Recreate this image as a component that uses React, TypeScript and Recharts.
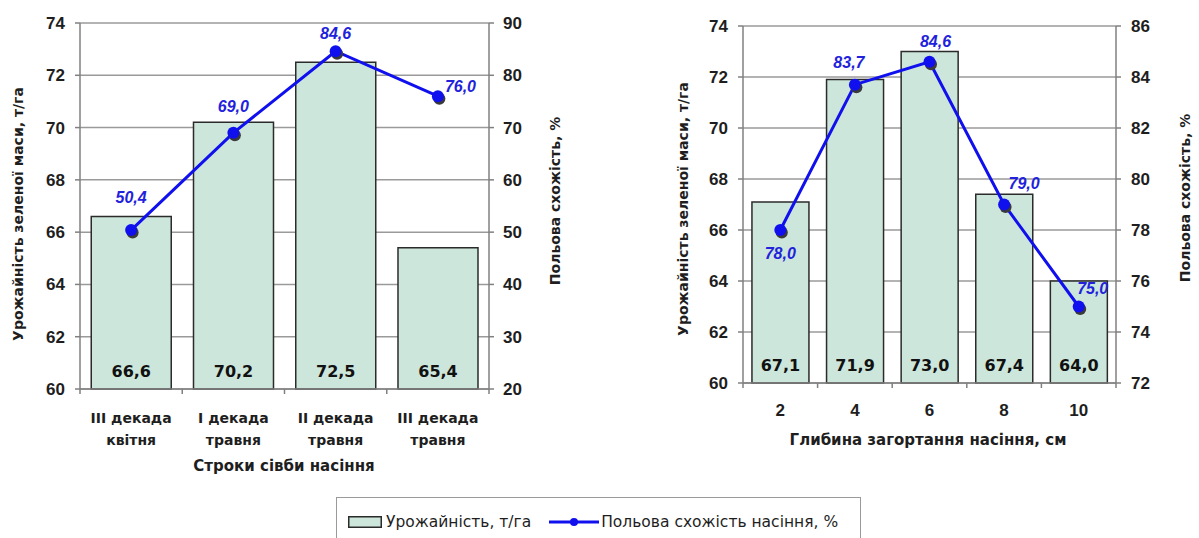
import { ComposedChart, Bar, Line, XAxis, YAxis, CartesianGrid, LabelList, Label } from 'recharts';

const sowingTerms = ['III декада\nквітня', 'I декада\nтравня', 'II декада\nтравня', 'III декада\nтравня'];
const sowingYield = [66.6, 70.2, 72.5, 65.4];
const sowingGermination = [50.4, 69.0, 84.6, 76.0];

const depths = ['2', '4', '6', '8', '10'];
const depthYield = [67.1, 71.9, 73.0, 67.4, 64.0];
const depthGermination = [78.0, 83.7, 84.6, 79.0, 75.0];

const yieldTicks = [60, 62, 64, 66, 68, 70, 72, 74];
const sowingGermTicks = [20, 30, 40, 50, 60, 70, 80, 90];
const depthGermTicks = [72, 74, 76, 78, 80, 82, 84, 86];

const FONT = '"Liberation Sans", Arial, sans-serif';
const WIDE = '"DejaVu Sans", Verdana, sans-serif';
const BAR_FILL = '#cde6db';
const BAR_STROKE = '#2b2b2b';
const LINE_COLOR = '#1010ee';
const LABEL_BLUE = '#2222dc';
const GRID = '#9a9a9a';
const AXIS = '#808080';
const TEXT = '#1e1e1e';

const fmt = (v: number) => v.toFixed(1).replace('.', ',');

const sowingData = sowingTerms.map((name, i) => ({
  name,
  yield: sowingYield[i],
  germ: sowingGermination[i],
}));
const depthData = depths.map((name, i) => ({
  name,
  yield: depthYield[i],
  germ: depthGermination[i],
}));

// label nudges for the line values (text baseline relative to the dot)
const sowingLabelNudge = [
  { dx: 0, dy: -27, anchor: 'middle' },
  { dx: 0, dy: -21, anchor: 'middle' },
  { dx: 0, dy: -12, anchor: 'middle' },
  { dx: 7, dy: -4, anchor: 'start' },
];
const depthLabelNudge = [
  { dx: 0, dy: 29, anchor: 'middle' },
  { dx: -6, dy: -17, anchor: 'middle' },
  { dx: 6, dy: -15, anchor: 'middle' },
  { dx: 20, dy: -16, anchor: 'middle' },
  { dx: 14, dy: -13, anchor: 'middle' },
];

function ShadowDot(props: any) {
  const { cx, cy } = props;
  if (cx == null || cy == null) return null;
  return (
    <g>
      <circle cx={cx + 1.5} cy={cy + 2.5} r={6} fill="#3a3a3a" />
      <circle cx={cx} cy={cy} r={6} fill={LINE_COLOR} />
    </g>
  );
}

function lineLabel(nudge: { dx: number; dy: number; anchor: string }[]) {
  return (props: any) => {
    const { x, y, value, index } = props;
    const n = nudge[index] || { dx: 0, dy: -12, anchor: 'middle' };
    return (
      <text
        x={x + n.dx}
        y={y + n.dy}
        textAnchor={n.anchor}
        fill={LABEL_BLUE}
        fontSize={16}
        fontWeight="bold"
        fontStyle="italic"
        fontFamily={FONT}
      >
        {fmt(Number(value))}
      </text>
    );
  };
}

function CategoryTick(props: any) {
  const { x, y, payload, index, band, count, firstDy, lineGap, fontSize, family } = props;
  const lines = String(payload.value).split('\n');
  return (
    <g>
      <line x1={x - band / 2} y1={y} x2={x - band / 2} y2={y + 5} stroke={AXIS} strokeWidth={1.5} />
      {index === count - 1 && (
        <line x1={x + band / 2} y1={y} x2={x + band / 2} y2={y + 5} stroke={AXIS} strokeWidth={1.5} />
      )}
      <text x={x} y={y + firstDy} textAnchor="middle" fill={TEXT} fontSize={fontSize} fontWeight="bold" fontFamily={family}>
        {lines.map((l, i) => (
          <tspan key={i} x={x} dy={i === 0 ? 0 : lineGap}>
            {l}
          </tspan>
        ))}
      </text>
    </g>
  );
}

function vTitle(text: string, x: number, y: number) {
  return () => (
    <text
      x={x}
      y={y}
      transform={`rotate(-90 ${x} ${y})`}
      textAnchor="middle"
      dominantBaseline="central"
      fill={TEXT}
      fontSize={14}
      fontWeight="bold"
      fontFamily={WIDE}
    >
      {text}
    </text>
  );
}

function hTitle(text: string, x: number, y: number) {
  return () => (
    <text x={x} y={y} textAnchor="middle" dominantBaseline="central" fill={TEXT} fontSize={15} fontWeight="bold" fontFamily={WIDE}>
      {text}
    </text>
  );
}

const tickStyle = { fontSize: 17, fontWeight: 'bold', fill: TEXT, fontFamily: FONT };
const barLabelStyle = { fontSize: 16, fontWeight: 'bold', fill: '#111', fontFamily: WIDE };

function Legend() {
  return (
    <div
      style={{
        position: 'absolute',
        left: 336,
        top: 497,
        width: 525,
        height: 50,
        border: '1px solid #9a9a9a',
        boxSizing: 'border-box',
        fontFamily: WIDE,
        fontSize: 15.5,
        color: TEXT,
      }}
    >
      <div style={{ display: 'flex', alignItems: 'center', height: 50, paddingLeft: 11, boxSizing: 'border-box', paddingBottom: 2 }}>
        <svg width={34} height={12} style={{ display: 'block' }}>
          <rect x={0.75} y={0.75} width={32.5} height={10.5} fill={BAR_FILL} stroke={BAR_STROKE} strokeWidth={1.5} />
        </svg>
        <span style={{ marginLeft: 4 }}>Урожайність, т/га</span>
        <svg width={50} height={12} style={{ display: 'block', marginLeft: 18 }}>
          <line x1={0} y1={6} x2={50} y2={6} stroke={LINE_COLOR} strokeWidth={3} />
          <circle cx={25} cy={6} r={4} fill={LINE_COLOR} />
        </svg>
        <span style={{ marginLeft: 2 }}>Польова схожість насіння, %</span>
      </div>
    </div>
  );
}

export default function App() {
  return (
    <div style={{ position: 'absolute', left: 0, top: 0, width: 1199, height: 538, background: '#fff', overflow: 'hidden' }}>
      <div style={{ position: 'absolute', left: 0, top: 0 }}>
        <ComposedChart width={600} height={490} data={sowingData} margin={{ top: 23, right: 61, left: 20, bottom: 31 }} barCategoryGap="11%">
          <CartesianGrid yAxisId="left" horizontal vertical={false} stroke={GRID} strokeWidth={1.5} />
          <XAxis
            dataKey="name"
            height={70}
            interval={0}
            tickSize={0}
            tickMargin={0}
            tickLine={false}
            axisLine={{ stroke: AXIS, strokeWidth: 1.5 }}
            tick={<CategoryTick band={102.25} count={sowingTerms.length} firstDy={34} lineGap={22} fontSize={14} family={WIDE} />}
          >
            <Label content={hTitle('Строки сівби насіння', 284, 466)} />
          </XAxis>
          <YAxis
            yAxisId="left"
            domain={[60, 74]}
            ticks={yieldTicks}
            interval={0}
            width={60}
            tickSize={5}
            tickMargin={10}
            axisLine={{ stroke: AXIS, strokeWidth: 1.5 }}
            tickLine={{ stroke: AXIS, strokeWidth: 1.5 }}
            tick={tickStyle}
          >
            <Label content={vTitle('Урожайність зеленої маси, т/га', 18, 214)} />
          </YAxis>
          <YAxis
            yAxisId="right"
            orientation="right"
            domain={[20, 90]}
            ticks={sowingGermTicks}
            interval={0}
            width={50}
            tickSize={5}
            tickMargin={9}
            axisLine={{ stroke: AXIS, strokeWidth: 1.5 }}
            tickLine={{ stroke: AXIS, strokeWidth: 1.5 }}
            tick={{ ...tickStyle, textAnchor: 'start' }}
          >
            <Label content={vTitle('Польова схожість, %', 555, 201)} />
          </YAxis>
          <Bar yAxisId="left" dataKey="yield" fill={BAR_FILL} stroke={BAR_STROKE} strokeWidth={1.5} isAnimationActive={false}>
            <LabelList
              dataKey="yield"
              position="insideBottom"
              offset={12}
              formatter={(v: any) => fmt(Number(v))}
              style={barLabelStyle}
            />
          </Bar>
          <Line
            yAxisId="right"
            dataKey="germ"
            stroke={LINE_COLOR}
            strokeWidth={3}
            dot={<ShadowDot />}
            activeDot={false}
            isAnimationActive={false}
          >
            <LabelList dataKey="germ" content={lineLabel(sowingLabelNudge)} />
          </Line>
        </ComposedChart>
      </div>

      <div style={{ position: 'absolute', left: 620, top: 0 }}>
        <ComposedChart width={579} height={490} data={depthData} margin={{ top: 26, right: 33, left: 63, bottom: 37 }} barCategoryGap="12%">
          <CartesianGrid yAxisId="left" horizontal vertical={false} stroke={GRID} strokeWidth={1.5} />
          <XAxis
            dataKey="name"
            height={70}
            interval={0}
            tickSize={0}
            tickMargin={0}
            tickLine={false}
            axisLine={{ stroke: AXIS, strokeWidth: 1.5 }}
            tick={<CategoryTick band={74.6} count={depths.length} firstDy={33} lineGap={20} fontSize={17} family={FONT} />}
          >
            <Label content={hTitle('Глибина загортання насіння, см', 308, 440)} />
          </XAxis>
          <YAxis
            yAxisId="left"
            domain={[60, 74]}
            ticks={yieldTicks}
            interval={0}
            width={60}
            tickSize={5}
            tickMargin={10}
            axisLine={{ stroke: AXIS, strokeWidth: 1.5 }}
            tickLine={{ stroke: AXIS, strokeWidth: 1.5 }}
            tick={tickStyle}
          >
            <Label content={vTitle('Урожайність зеленої маси, т/га', 63, 209)} />
          </YAxis>
          <YAxis
            yAxisId="right"
            orientation="right"
            domain={[72, 86]}
            ticks={depthGermTicks}
            interval={0}
            width={50}
            tickSize={5}
            tickMargin={10}
            axisLine={{ stroke: AXIS, strokeWidth: 1.5 }}
            tickLine={{ stroke: AXIS, strokeWidth: 1.5 }}
            tick={{ ...tickStyle, textAnchor: 'start' }}
          >
            <Label content={vTitle('Польова схожість, %', 565, 198)} />
          </YAxis>
          <Bar yAxisId="left" dataKey="yield" fill={BAR_FILL} stroke={BAR_STROKE} strokeWidth={1.5} isAnimationActive={false}>
            <LabelList
              dataKey="yield"
              position="insideBottom"
              offset={12}
              formatter={(v: any) => fmt(Number(v))}
              style={barLabelStyle}
            />
          </Bar>
          <Line
            yAxisId="right"
            dataKey="germ"
            stroke={LINE_COLOR}
            strokeWidth={3}
            dot={<ShadowDot />}
            activeDot={false}
            isAnimationActive={false}
          >
            <LabelList dataKey="germ" content={lineLabel(depthLabelNudge)} />
          </Line>
        </ComposedChart>
      </div>

      <Legend />
    </div>
  );
}
